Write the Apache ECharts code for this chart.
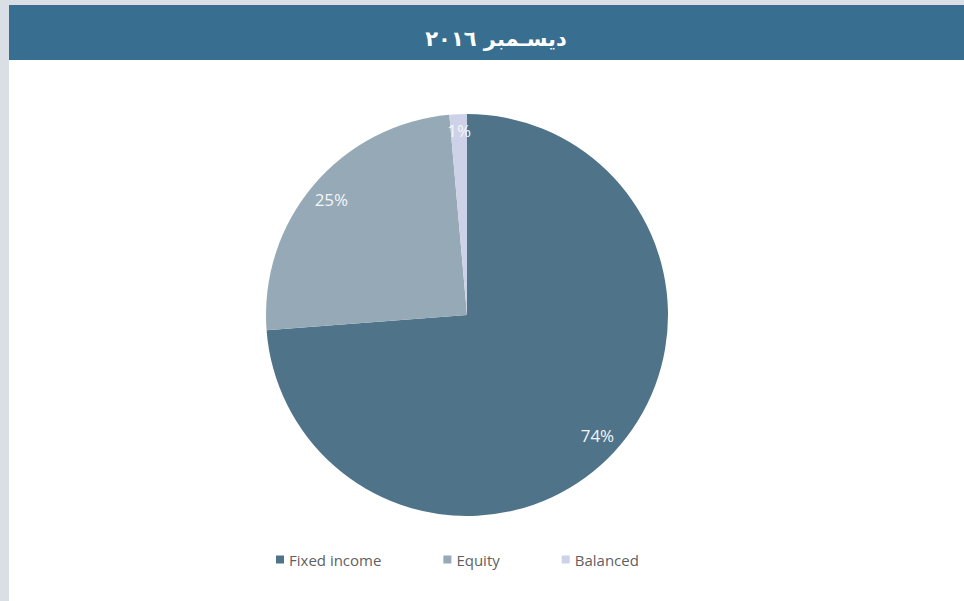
<!DOCTYPE html>
<html>
<head>
<meta charset="utf-8">
<script src="https://cdn.jsdelivr.net/npm/echarts@6/dist/echarts.min.js"></script>
<style>
  html, body { margin: 0; padding: 0; background: #dadfe6; width: 964px; height: 601px; overflow: hidden; }
  #chart { position: absolute; left: 9px; top: 5px; width: 955px; height: 596px; background: #ffffff; }
</style>
</head>
<body>
<div id="chart"></div>
<script>
const titleText = 'ديسـمبر ٢٠١٦';
const categories = ['Fixed income', 'Equity', 'Balanced'];
const values = [73.8, 24.8, 1.4];
const colors = ['#4f7389', '#95a9b6', '#cdd2e8'];

const chart = echarts.init(document.getElementById('chart'), null, { renderer: 'svg' });

const pieData = categories.map((name, i) => ({ name, value: values[i], itemStyle: { color: colors[i] } }));
const labelData = categories.map((name, i) => ({
  name, value: values[i],
  label: i === 2 ? { offset: [0, -7] } : {}
}));

const center = [458, 310];
const R = 201;

chart.setOption({
  animation: false,
  graphic: [
    { type: 'rect', shape: { x: 0, y: 0, width: 955, height: 55 }, style: { fill: '#386f91' }, silent: true },
    { type: 'text', x: 487, y: 34, style: { text: titleText, fill: '#ffffff', font: 'bold 21px "DejaVu Sans", sans-serif', align: 'center', verticalAlign: 'middle' }, silent: true }
  ],
  legend: {
    data: categories,
    left: 267,
    top: 547,
    padding: 0,
    itemWidth: 8,
    itemHeight: 8,
    itemGap: 62,
    icon: 'rect',
    textStyle: { color: '#5f5f5f', fontSize: 15, fontFamily: '"Open Sans", sans-serif' }
  },
  series: [
    {
      type: 'pie',
      center: center,
      radius: [0, R],
      startAngle: 90,
      clockwise: true,
      silent: true,
      label: { show: false },
      labelLine: { show: false },
      itemStyle: { borderWidth: 0 },
      emphasis: { disabled: true },
      data: pieData
    },
    {
      type: 'pie',
      center: center,
      radius: [R * 0.74, R],
      startAngle: 90,
      clockwise: true,
      silent: true,
      itemStyle: { color: 'rgba(0,0,0,0)', borderWidth: 0 },
      emphasis: { disabled: true },
      labelLine: { show: false },
      label: {
        show: true,
        position: 'inside',
        rotate: 0,
        color: '#f4f6f8',
        fontSize: 17,
        fontFamily: '"Open Sans", sans-serif',
        formatter: p => Math.round(p.percent) + '%'
      },
      data: labelData
    }
  ]
});
</script>
</body>
</html>
